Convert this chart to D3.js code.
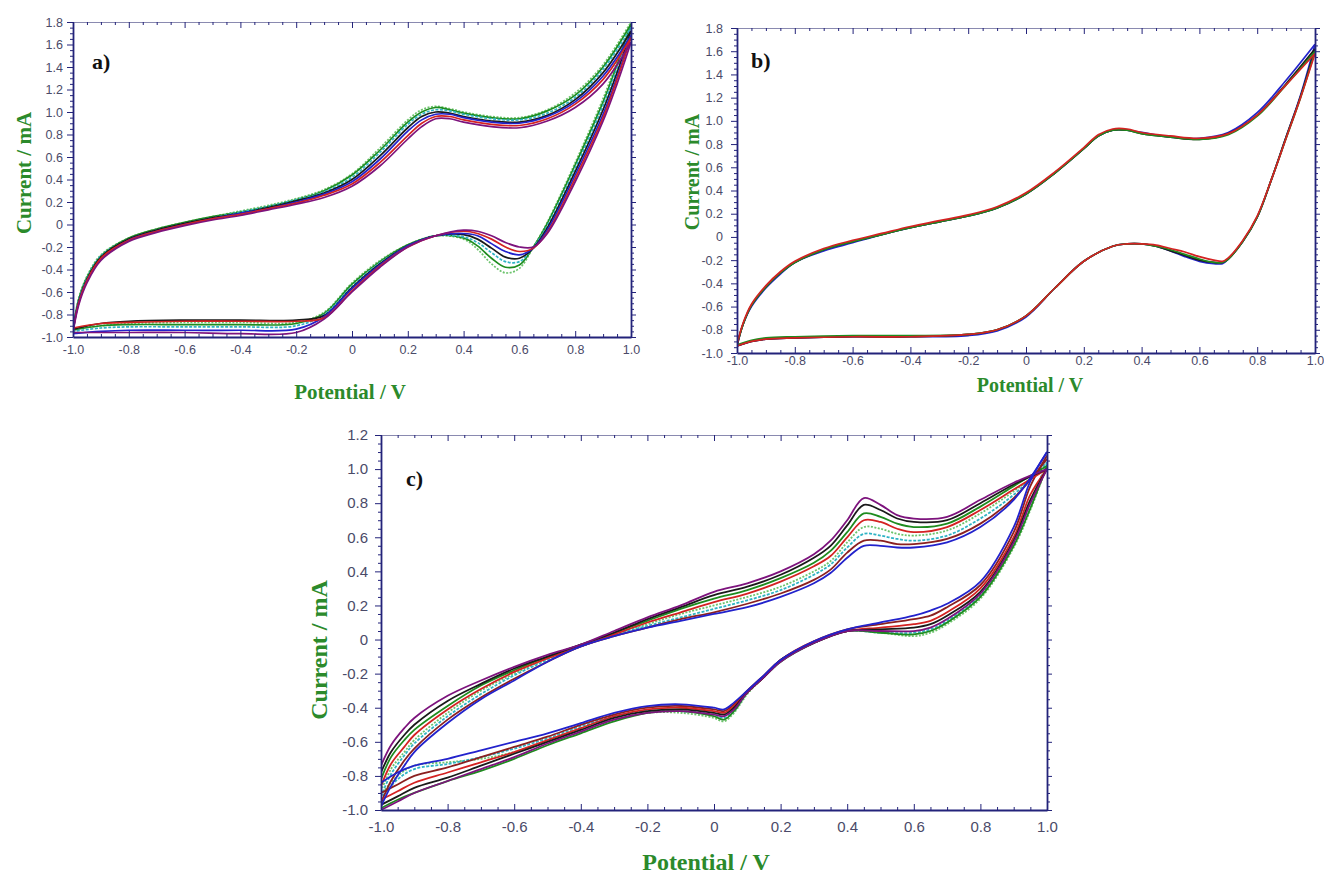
<!DOCTYPE html>
<html><head><meta charset="utf-8">
<script src="https://cdn.jsdelivr.net/npm/d3@7"></script>
<style>body{margin:0;background:#fff}</style>
</head><body><svg id="chart" width="1324" height="876"></svg>
<script>
// ---------------- DATA ----------------
const xTickValues = [-1.0,-0.8,-0.6,-0.4,-0.2,0,0.2,0.4,0.6,0.8,1.0];
const yTickValuesAB = [-1.0,-0.8,-0.6,-0.4,-0.2,0,0.2,0.4,0.6,0.8,1.0,1.2,1.4,1.6,1.8];
const yTickValuesC = [-1.0,-0.8,-0.6,-0.4,-0.2,0,0.2,0.4,0.6,0.8,1.0,1.2];
const xTitle = "Potential / V";
const yTitle = "Current / mA";

// Panel a) potentials (V) for anodic (forward) and cathodic (reverse) sweeps
const potFwdA = [-1.0,-0.98,-0.95,-0.9,-0.8,-0.7,-0.6,-0.5,-0.4,-0.3,-0.2,-0.1,0.0,0.1,0.2,0.25,0.3,0.35,0.4,0.5,0.6,0.7,0.8,0.9,1.0];
const potRevA = [1.0,0.95,0.9,0.8,0.7,0.65,0.6,0.55,0.5,0.45,0.4,0.3,0.2,0.1,0.0,-0.1,-0.2,-0.4,-0.6,-0.8,-0.9,-1.0];
const cycleNamesA = ["lightgreen","green","cyan","black","blue","red","purple"];
const fwdA = [
  [-0.93,-0.66,-0.46,-0.27,-0.12,-0.04,0.02,0.07,0.12,0.17,0.23,0.31,0.45,0.68,0.93,1.02,1.05,1.03,1.00,0.96,0.95,1.02,1.17,1.42,1.80],
  [-0.93,-0.67,-0.47,-0.28,-0.12,-0.04,0.02,0.07,0.11,0.16,0.22,0.30,0.44,0.66,0.91,1.00,1.04,1.02,0.99,0.95,0.94,1.01,1.15,1.40,1.78],
  [-0.94,-0.68,-0.48,-0.28,-0.13,-0.05,0.01,0.06,0.11,0.16,0.22,0.29,0.42,0.64,0.89,0.98,1.02,1.01,0.98,0.94,0.93,0.99,1.13,1.38,1.75],
  [-0.94,-0.69,-0.49,-0.29,-0.13,-0.05,0.01,0.06,0.10,0.15,0.21,0.28,0.40,0.61,0.86,0.96,1.00,0.99,0.96,0.92,0.91,0.97,1.11,1.35,1.72],
  [-0.95,-0.70,-0.50,-0.31,-0.14,-0.06,0.00,0.05,0.10,0.14,0.20,0.27,0.38,0.58,0.83,0.93,0.98,0.98,0.95,0.91,0.90,0.96,1.09,1.32,1.68],
  [-0.95,-0.70,-0.50,-0.30,-0.14,-0.06,0.00,0.05,0.09,0.14,0.19,0.26,0.36,0.55,0.79,0.90,0.96,0.96,0.93,0.89,0.88,0.94,1.07,1.29,1.66],
  [-0.96,-0.72,-0.52,-0.32,-0.15,-0.07,-0.01,0.04,0.08,0.13,0.18,0.24,0.34,0.52,0.76,0.87,0.94,0.94,0.91,0.87,0.86,0.92,1.04,1.25,1.62]
];
const revA = [
  [1.80,1.45,1.12,0.55,0.02,-0.20,-0.39,-0.43,-0.35,-0.22,-0.13,-0.10,-0.18,-0.32,-0.52,-0.78,-0.87,-0.87,-0.87,-0.88,-0.90,-0.93],
  [1.78,1.42,1.09,0.53,0.01,-0.20,-0.36,-0.38,-0.30,-0.19,-0.12,-0.10,-0.18,-0.33,-0.53,-0.79,-0.88,-0.89,-0.89,-0.89,-0.90,-0.94],
  [1.75,1.39,1.06,0.50,-0.01,-0.20,-0.33,-0.33,-0.25,-0.16,-0.11,-0.10,-0.19,-0.34,-0.55,-0.80,-0.90,-0.91,-0.91,-0.91,-0.92,-0.95],
  [1.72,1.35,1.02,0.47,-0.03,-0.21,-0.30,-0.29,-0.21,-0.13,-0.09,-0.10,-0.19,-0.35,-0.56,-0.81,-0.85,-0.85,-0.85,-0.86,-0.88,-0.93],
  [1.68,1.31,0.98,0.44,-0.05,-0.21,-0.27,-0.24,-0.17,-0.10,-0.08,-0.10,-0.19,-0.36,-0.57,-0.82,-0.93,-0.94,-0.94,-0.94,-0.95,-0.97],
  [1.66,1.29,0.95,0.41,-0.07,-0.21,-0.24,-0.20,-0.13,-0.08,-0.06,-0.10,-0.20,-0.37,-0.59,-0.83,-0.86,-0.86,-0.86,-0.87,-0.88,-0.92],
  [1.62,1.25,0.92,0.38,-0.08,-0.20,-0.20,-0.16,-0.10,-0.06,-0.05,-0.10,-0.20,-0.38,-0.60,-0.84,-0.96,-0.97,-0.96,-0.96,-0.96,-0.96]
];

// Panel b)
const potFwdB = [-1.0,-0.98,-0.95,-0.9,-0.85,-0.8,-0.7,-0.6,-0.5,-0.4,-0.3,-0.2,-0.1,0.0,0.1,0.2,0.25,0.3,0.35,0.4,0.5,0.6,0.7,0.8,0.9,1.0];
const potRevB = [1.0,0.95,0.9,0.85,0.8,0.75,0.7,0.68,0.65,0.6,0.55,0.5,0.45,0.4,0.35,0.3,0.2,0.1,0.0,-0.1,-0.2,-0.4,-0.6,-0.8,-0.9,-0.95,-1.0];
const cycleNamesB = ["blue","black","green","red"];
const fwdB = [
  [-0.94,-0.76,-0.60,-0.44,-0.32,-0.22,-0.12,-0.05,0.02,0.08,0.13,0.18,0.25,0.37,0.55,0.76,0.87,0.92,0.92,0.90,0.86,0.85,0.90,1.07,1.35,1.66],
  [-0.94,-0.76,-0.59,-0.43,-0.31,-0.22,-0.11,-0.04,0.02,0.08,0.13,0.18,0.25,0.37,0.55,0.76,0.87,0.92,0.92,0.89,0.86,0.84,0.89,1.05,1.32,1.62],
  [-0.93,-0.76,-0.59,-0.43,-0.31,-0.22,-0.11,-0.04,0.02,0.08,0.13,0.18,0.25,0.37,0.55,0.76,0.87,0.92,0.92,0.89,0.86,0.84,0.88,1.04,1.31,1.60],
  [-0.93,-0.75,-0.58,-0.42,-0.30,-0.21,-0.10,-0.03,0.03,0.09,0.14,0.19,0.26,0.38,0.56,0.77,0.88,0.93,0.93,0.90,0.87,0.85,0.89,1.05,1.31,1.58]
];
const revB = [
  [1.66,1.22,0.86,0.50,0.17,-0.04,-0.19,-0.23,-0.23,-0.21,-0.17,-0.12,-0.08,-0.06,-0.06,-0.08,-0.21,-0.44,-0.69,-0.81,-0.85,-0.86,-0.86,-0.87,-0.88,-0.90,-0.94],
  [1.62,1.21,0.86,0.50,0.17,-0.04,-0.19,-0.22,-0.22,-0.20,-0.16,-0.12,-0.08,-0.06,-0.06,-0.08,-0.21,-0.44,-0.68,-0.80,-0.84,-0.86,-0.86,-0.87,-0.88,-0.90,-0.94],
  [1.60,1.20,0.85,0.50,0.17,-0.04,-0.19,-0.22,-0.22,-0.19,-0.15,-0.11,-0.08,-0.06,-0.06,-0.08,-0.21,-0.44,-0.68,-0.80,-0.84,-0.85,-0.85,-0.86,-0.87,-0.89,-0.93],
  [1.58,1.20,0.85,0.50,0.18,-0.03,-0.18,-0.21,-0.20,-0.17,-0.13,-0.10,-0.07,-0.06,-0.06,-0.08,-0.21,-0.44,-0.68,-0.80,-0.84,-0.86,-0.86,-0.87,-0.88,-0.90,-0.94]
];

// Panel c)
const potFwdC = [-1.0,-0.97,-0.93,-0.9,-0.8,-0.7,-0.6,-0.5,-0.4,-0.3,-0.2,-0.1,0.0,0.1,0.2,0.3,0.35,0.4,0.45,0.5,0.55,0.6,0.7,0.8,0.9,1.0];
const potRevC = [1.0,0.95,0.9,0.8,0.7,0.65,0.6,0.5,0.4,0.3,0.2,0.15,0.1,0.06,0.03,0.0,-0.1,-0.2,-0.3,-0.4,-0.5,-0.6,-0.7,-0.8,-0.9,-0.95,-1.0];
const cycleNamesC = ["lightgreen","cyan","green","darkred","red","black","purple","blue"];
const fwdC = [
  [-0.89,-0.76,-0.66,-0.59,-0.43,-0.30,-0.20,-0.11,-0.04,0.03,0.09,0.15,0.20,0.25,0.31,0.40,0.46,0.57,0.66,0.65,0.62,0.61,0.64,0.74,0.87,1.02],
  [-0.92,-0.79,-0.68,-0.61,-0.45,-0.32,-0.21,-0.12,-0.04,0.03,0.08,0.13,0.18,0.23,0.29,0.38,0.44,0.54,0.62,0.61,0.59,0.58,0.61,0.71,0.85,1.04],
  [-0.82,-0.69,-0.59,-0.53,-0.39,-0.27,-0.18,-0.10,-0.03,0.04,0.11,0.18,0.24,0.29,0.36,0.45,0.52,0.63,0.74,0.72,0.68,0.66,0.68,0.78,0.90,1.02],
  [-0.96,-0.83,-0.71,-0.64,-0.47,-0.34,-0.23,-0.13,-0.04,0.02,0.07,0.12,0.16,0.21,0.27,0.35,0.41,0.51,0.58,0.58,0.56,0.56,0.59,0.68,0.83,1.06],
  [-0.86,-0.73,-0.63,-0.56,-0.41,-0.29,-0.19,-0.11,-0.04,0.03,0.10,0.16,0.22,0.27,0.34,0.43,0.49,0.60,0.70,0.69,0.65,0.63,0.66,0.76,0.88,1.00],
  [-0.78,-0.66,-0.56,-0.50,-0.36,-0.26,-0.17,-0.10,-0.03,0.04,0.12,0.19,0.26,0.31,0.38,0.48,0.55,0.67,0.79,0.76,0.71,0.69,0.70,0.80,0.91,1.00],
  [-0.74,-0.62,-0.52,-0.46,-0.33,-0.24,-0.16,-0.09,-0.03,0.05,0.13,0.20,0.28,0.33,0.40,0.50,0.58,0.70,0.83,0.79,0.73,0.71,0.72,0.82,0.92,1.00],
  [-0.98,-0.86,-0.74,-0.66,-0.49,-0.35,-0.24,-0.13,-0.04,0.02,0.07,0.11,0.15,0.19,0.25,0.33,0.39,0.48,0.55,0.55,0.54,0.54,0.57,0.66,0.82,1.10]
];
const revC = [
  [1.02,0.76,0.54,0.24,0.09,0.04,0.02,0.04,0.05,-0.02,-0.13,-0.22,-0.32,-0.43,-0.48,-0.46,-0.43,-0.43,-0.47,-0.53,-0.60,-0.66,-0.70,-0.72,-0.74,-0.80,-0.91],
  [1.04,0.80,0.56,0.26,0.11,0.06,0.04,0.04,0.05,-0.02,-0.13,-0.22,-0.31,-0.42,-0.46,-0.44,-0.42,-0.42,-0.45,-0.51,-0.58,-0.64,-0.69,-0.73,-0.76,-0.82,-0.93],
  [1.02,0.77,0.55,0.25,0.10,0.05,0.03,0.04,0.05,-0.02,-0.13,-0.22,-0.31,-0.42,-0.47,-0.45,-0.42,-0.43,-0.48,-0.55,-0.62,-0.70,-0.77,-0.83,-0.90,-0.94,-0.99],
  [1.08,0.90,0.63,0.32,0.19,0.14,0.12,0.09,0.06,-0.01,-0.12,-0.21,-0.30,-0.38,-0.42,-0.41,-0.39,-0.40,-0.44,-0.50,-0.57,-0.63,-0.69,-0.75,-0.80,-0.85,-0.90],
  [1.00,0.85,0.60,0.30,0.16,0.11,0.09,0.07,0.05,-0.01,-0.12,-0.22,-0.31,-0.39,-0.43,-0.42,-0.40,-0.41,-0.45,-0.52,-0.59,-0.66,-0.72,-0.78,-0.84,-0.89,-0.94],
  [1.00,0.82,0.58,0.28,0.14,0.09,0.07,0.06,0.05,-0.02,-0.12,-0.22,-0.31,-0.40,-0.44,-0.43,-0.41,-0.42,-0.46,-0.53,-0.60,-0.67,-0.74,-0.81,-0.87,-0.92,-0.97],
  [1.00,0.80,0.57,0.27,0.12,0.07,0.05,0.05,0.05,-0.02,-0.13,-0.22,-0.31,-0.41,-0.45,-0.44,-0.42,-0.43,-0.47,-0.54,-0.61,-0.69,-0.76,-0.83,-0.90,-0.95,-1.00],
  [1.10,0.93,0.66,0.34,0.21,0.17,0.14,0.10,0.06,-0.01,-0.12,-0.21,-0.30,-0.37,-0.41,-0.40,-0.38,-0.39,-0.43,-0.49,-0.55,-0.60,-0.65,-0.70,-0.74,-0.78,-0.84]
];

// ---------------- STYLE ----------------
const colorOf = {
  lightgreen: "#6cc46c", green: "#1e8c1e", cyan: "#2fb3c4", black: "#1a1a1a",
  blue: "#2222cc", red: "#d42222", purple: "#7d137d", darkred: "#8b2020"
};
const dashOf = { lightgreen: "2,1.5", cyan: "3,1.5" };
const axisColor = "#23237a";
const tickTextColor = "#4a4a68";
const titleColor = "#2b8a2b";
const fmt = d => Math.abs(d) < 1e-9 ? "0" : (d < 0 ? "-" : "") + Math.abs(d).toFixed(1);

const svg = d3.select("#chart");
svg.append("rect").attr("width",1324).attr("height",876).attr("fill","#fff");

function panel(cfg) {
  const x = d3.scaleLinear().domain([-1, 1]).range([cfg.left, cfg.right]);
  const y = d3.scaleLinear().domain(cfg.yDomain).range([cfg.bottom, cfg.top]);
  const g = svg.append("g");
  const clipId = "clip-" + cfg.name;
  svg.append("clipPath").attr("id", clipId).append("rect")
    .attr("x", cfg.left).attr("y", cfg.top - 2)
    .attr("width", cfg.right - cfg.left + 1).attr("height", cfg.bottom - cfg.top + 3);

  const line = d3.line().x(d => x(d[0])).y(d => y(d[1])).curve(d3.curveCatmullRom.alpha(0.5));
  const curves = g.append("g").attr("clip-path", `url(#${clipId})`);
  cfg.names.forEach((nm, i) => {
    [[cfg.potFwd, cfg.fwd[i]], [cfg.potRev, cfg.rev[i]]].forEach(([pots, vals]) => {
      curves.append("path")
        .datum(d3.zip(pots, vals))
        .attr("d", line)
        .attr("fill", "none")
        .attr("stroke", colorOf[nm])
        .attr("stroke-width", cfg.lw)
        .attr("stroke-dasharray", dashOf[nm] || null)
        .attr("stroke-linejoin", "round");
    });
  });

  const step = 0.05;
  const minorX = d3.range(-20, 21).map(i => i * step).filter(v => Math.abs(Math.round(v * 5) - v * 5) > 1e-6);
  const yMin = cfg.yDomain[0], yMax = cfg.yDomain[1];
  const minorY = d3.range(Math.round(yMin / step), Math.round(yMax / step) + 1).map(i => i * step)
    .filter(v => Math.abs(Math.round(v * 5) - v * 5) > 1e-6);

  function styleAxis(sel, lw) {
    sel.select(".domain").attr("stroke", axisColor).attr("stroke-width", lw);
    sel.selectAll(".tick line").attr("stroke", axisColor).attr("stroke-width", 1);
    sel.selectAll("text").attr("font-family", "'Liberation Sans', Arial, sans-serif")
      .attr("font-size", cfg.tickFs).attr("fill", tickTextColor);
  }

  // top (thin, ticks inward)
  const top = g.append("g").attr("transform", `translate(0,${cfg.top})`)
    .call(d3.axisTop(x).tickValues(xTickValues).tickSizeInner(-6).tickSizeOuter(0).tickFormat(""));
  styleAxis(top, 1); top.select(".domain").attr("stroke", "#8a8ab0");
  const topM = g.append("g").attr("transform", `translate(0,${cfg.top})`)
    .call(d3.axisTop(x).tickValues(minorX).tickSizeInner(-3).tickSizeOuter(0).tickFormat(""));
  styleAxis(topM, 0); topM.select(".domain").remove();

  // right (ticks outward)
  const right = g.append("g").attr("transform", `translate(${cfg.right},0)`)
    .call(d3.axisRight(y).tickValues(cfg.yTicks).tickSizeInner(5).tickSizeOuter(0).tickFormat(""));
  styleAxis(right, 1.8);
  const rightM = g.append("g").attr("transform", `translate(${cfg.right},0)`)
    .call(d3.axisRight(y).tickValues(minorY).tickSizeInner(3).tickSizeOuter(0).tickFormat(""));
  styleAxis(rightM, 0); rightM.select(".domain").remove();

  // bottom (ticks inward)
  const bottom = g.append("g").attr("transform", `translate(0,${cfg.bottom})`)
    .call(d3.axisBottom(x).tickValues(xTickValues).tickSizeInner(-6).tickSizeOuter(0)
      .tickPadding(cfg.xPad).tickFormat(fmt));
  styleAxis(bottom, 1.8);
  const bottomM = g.append("g").attr("transform", `translate(0,${cfg.bottom})`)
    .call(d3.axisBottom(x).tickValues(minorX).tickSizeInner(-3).tickSizeOuter(0).tickFormat(""));
  styleAxis(bottomM, 0); bottomM.select(".domain").remove();

  // left (ticks outward)
  const left = g.append("g").attr("transform", `translate(${cfg.left},0)`)
    .call(d3.axisLeft(y).tickValues(cfg.yTicks).tickSizeInner(6).tickSizeOuter(0)
      .tickPadding(cfg.yPad).tickFormat(fmt));
  styleAxis(left, 1.8);
  const leftM = g.append("g").attr("transform", `translate(${cfg.left},0)`)
    .call(d3.axisLeft(y).tickValues(minorY).tickSizeInner(3).tickSizeOuter(0).tickFormat(""));
  styleAxis(leftM, 0); leftM.select(".domain").remove();

  // titles
  g.append("text").text(xTitle)
    .attr("x", cfg.xTitlePos[0]).attr("y", cfg.xTitlePos[1])
    .attr("text-anchor", "middle")
    .attr("font-family", "'Liberation Serif', 'Times New Roman', serif")
    .attr("font-weight", "bold").attr("font-size", cfg.titleFs).attr("fill", titleColor);
  g.append("text").text(yTitle)
    .attr("transform", `translate(${cfg.yTitlePos[0]},${cfg.yTitlePos[1]}) rotate(-90)`)
    .attr("text-anchor", "middle")
    .attr("font-family", "'Liberation Serif', 'Times New Roman', serif")
    .attr("font-weight", "bold").attr("font-size", cfg.titleFs).attr("fill", titleColor);
  g.append("text").text(cfg.label)
    .attr("x", cfg.labelPos[0]).attr("y", cfg.labelPos[1])
    .attr("font-family", "'Liberation Serif', 'Times New Roman', serif")
    .attr("font-weight", "bold").attr("font-size", cfg.labelFs).attr("fill", "#111");
}

panel({
  name: "a", left: 73, right: 631, top: 22, bottom: 337, yDomain: [-1.0, 1.8],
  yTicks: yTickValuesAB, potFwd: potFwdA, potRev: potRevA, fwd: fwdA, rev: revA, names: cycleNamesA,
  lw: 1.7, tickFs: 12.5, xPad: 8, yPad: 4, titleFs: 21, labelFs: 22,
  xTitlePos: [350, 399], yTitlePos: [31, 173], label: "a)", labelPos: [92, 69]
});
panel({
  name: "b", left: 737, right: 1315, top: 28, bottom: 353, yDomain: [-1.0, 1.8],
  yTicks: yTickValuesAB, potFwd: potFwdB, potRev: potRevB, fwd: fwdB, rev: revB, names: cycleNamesB,
  lw: 1.7, tickFs: 12.5, xPad: 3, yPad: 8, titleFs: 20, labelFs: 22,
  xTitlePos: [1030, 392], yTitlePos: [699, 172], label: "b)", labelPos: [751, 68]
});
panel({
  name: "c", left: 381, right: 1047, top: 435, bottom: 810, yDomain: [-1.0, 1.2],
  yTicks: yTickValuesC, potFwd: potFwdC, potRev: potRevC, fwd: fwdC, rev: revC, names: cycleNamesC,
  lw: 1.8, tickFs: 15, xPad: 11, yPad: 7, titleFs: 24, labelFs: 22,
  xTitlePos: [706, 870], yTitlePos: [327, 650], label: "c)", labelPos: [406, 486]
});
</script>
</body></html>
